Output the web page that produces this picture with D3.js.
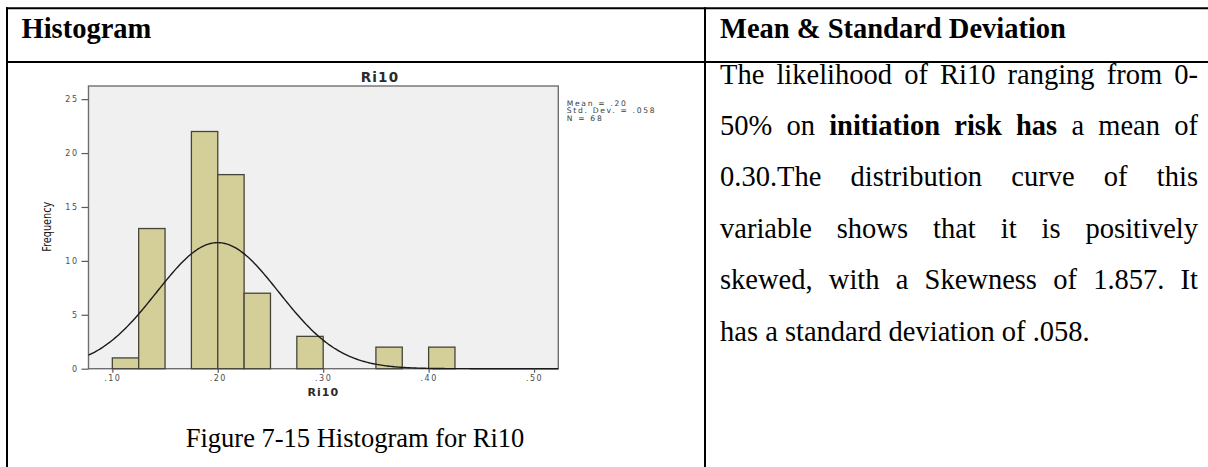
<!DOCTYPE html>
<html>
<head>
<meta charset="utf-8">
<script src="https://cdn.jsdelivr.net/npm/d3@7"></script>
<style>
  body { margin: 0; background: #fff; }
  svg { display: block; }
</style>
</head>
<body>
<svg id="page" width="1208" height="467"></svg>
<script>
// Ri10 histogram: lower edge of each 0.025-wide bin and its frequency
const binStarts = [0.100, 0.125, 0.150, 0.175, 0.200, 0.225, 0.250, 0.275, 0.300, 0.325, 0.350, 0.375, 0.400];
const binCounts = [1, 13, 0, 22, 18, 7, 0, 3, 0, 0, 2, 0, 2];
const binWidth = 0.025;

// Summary statistics used for the fitted normal curve
const meanValue = 0.20;
const sdValue = 0.058;
const nValue = 68;

// Axis ticks
const xTicks = [0.10, 0.20, 0.30, 0.40, 0.50];
const xTickLabels = [".10", ".20", ".30", ".40", ".50"];
const yTicks = [0, 5, 10, 15, 20, 25];

const legendLines = ["Mean = .20", "Std. Dev. = .058", "N = 68"];

// Right-hand column text, word runs flagged bold or not
const paragraphLines = [
  [["The likelihood of Ri10 ranging from 0-", false]],
  [["50% on", false], ["initiation risk has", true], ["a mean of", false]],
  [["0.30.The distribution curve of this", false]],
  [["variable shows that it is positively", false]],
  [["skewed, with a Skewness of 1.857. It", false]],
  [["has a standard deviation of .058.", false]]
];

const svg = d3.select("#page");
const serif = "'Liberation Serif', 'Times New Roman', serif";
const sans = "'DejaVu Sans', Verdana, sans-serif";

// ---------- table frame ----------
const frame = svg.append("g").attr("stroke", "#000").attr("stroke-width", 2);
frame.append("line").attr("x1", 6).attr("x2", 1208).attr("y1", 8.3).attr("y2", 8.3);
frame.append("line").attr("x1", 6).attr("x2", 1208).attr("y1", 62).attr("y2", 62);
frame.append("line").attr("x1", 7).attr("x2", 7).attr("y1", 7.3).attr("y2", 467);
frame.append("line").attr("x1", 705).attr("x2", 705).attr("y1", 7.3).attr("y2", 467);

svg.append("text").attr("x", 21.5).attr("y", 37.5)
  .attr("font-family", serif).attr("font-weight", "bold").attr("font-size", 28.5)
  .text("Histogram");
svg.append("text").attr("x", 720).attr("y", 37.5)
  .attr("font-family", serif).attr("font-weight", "bold").attr("font-size", 28.5)
  .text("Mean & Standard Deviation");

// ---------- histogram ----------
const plot = { l: 88.5, r: 558.3, t: 86, b: 368.7 };
const x = d3.scaleLinear().domain([0.0774, 0.523]).range([plot.l, plot.r]);
const y = d3.scaleLinear().domain([0, 26.22]).range([plot.b, plot.t]);

svg.append("rect")
  .attr("x", plot.l).attr("y", plot.t)
  .attr("width", plot.r - plot.l).attr("height", plot.b - plot.t)
  .attr("fill", "#f0f0f0").attr("stroke", "#6f6f6f").attr("stroke-width", 1.4);

const bins = binStarts.map((s, i) => ({ x0: s, x1: s + binWidth, count: binCounts[i] }))
  .filter(d => d.count > 0);

svg.append("g").selectAll("rect").data(bins).join("rect")
  .attr("x", d => x(d.x0))
  .attr("y", d => y(d.count))
  .attr("width", d => x(d.x1) - x(d.x0))
  .attr("height", d => y(0) - y(d.count))
  .attr("fill", "#d4cf98")
  .attr("stroke", "#45453a")
  .attr("stroke-width", 1.3);

// Fitted normal curve scaled to frequency: N * binWidth * pdf(x)
const curveScale = nValue * binWidth / (sdValue * Math.sqrt(2 * Math.PI));
const curvePts = d3.range(0, 301).map(i => {
  const xv = x.domain()[0] + (x.domain()[1] - x.domain()[0]) * i / 300;
  const z = (xv - meanValue) / sdValue;
  return [xv, curveScale * Math.exp(-0.5 * z * z)];
});
svg.append("path")
  .datum(curvePts)
  .attr("fill", "none")
  .attr("stroke", "#1a1a1a")
  .attr("stroke-width", 1.4)
  .attr("d", d3.line().x(d => x(d[0])).y(d => y(d[1])));

// Axes
const yAxis = svg.append("g")
  .attr("transform", `translate(${plot.l},0)`)
  .call(d3.axisLeft(y).tickValues(yTicks).tickFormat(d3.format("d")).tickSize(7).tickPadding(3));
const xAxis = svg.append("g")
  .attr("transform", `translate(0,${plot.b})`)
  .call(d3.axisBottom(x).tickValues(xTicks).tickFormat((d, i) => xTickLabels[i]).tickSize(4).tickPadding(3));

[yAxis, xAxis].forEach(g => {
  g.select(".domain").remove();
  g.selectAll(".tick line").attr("stroke", "#5a5a5a").attr("stroke-width", 1.2);
  g.selectAll(".tick text")
    .attr("fill", "#4d4d4d")
    .attr("font-family", sans)
    .attr("font-size", 8)
    .attr("letter-spacing", 1.5);
});

// Titles
svg.append("text").attr("x", 380).attr("y", 81.5)
  .attr("text-anchor", "middle")
  .attr("font-family", sans).attr("font-weight", "bold").attr("font-size", 13.5)
  .attr("letter-spacing", 1.2).attr("fill", "#2b2b2b")
  .text("Ri10");
svg.append("text").attr("x", (plot.l + plot.r) / 2).attr("y", 396)
  .attr("text-anchor", "middle")
  .attr("font-family", sans).attr("font-weight", "bold").attr("font-size", 11)
  .attr("letter-spacing", 1).attr("fill", "#2b2b2b")
  .text("Ri10");
svg.append("text")
  .attr("transform", "translate(51,226.7) rotate(-90)")
  .attr("text-anchor", "middle")
  .attr("font-family", "'DejaVu Sans Condensed', 'DejaVu Sans', sans-serif")
  .attr("font-size", 12).attr("fill", "#111")
  .attr("textLength", 50).attr("lengthAdjust", "spacingAndGlyphs")
  .text("Frequency");

// Statistics legend
svg.append("g").selectAll("text").data(legendLines).join("text")
  .attr("x", 566.7)
  .attr("y", (d, i) => 106 + i * 7.3)
  .attr("font-family", sans).attr("font-size", 7.6)
  .attr("letter-spacing", 1.7).attr("fill", "#3d3d3d")
  .text(d => d);

// Caption
svg.append("text").attr("x", 355).attr("y", 447)
  .attr("text-anchor", "middle")
  .attr("font-family", serif).attr("font-size", 26.5)
  .text("Figure 7-15 Histogram for Ri10");

// ---------- justified paragraph ----------
const paraX = 720, paraRight = 1198, paraSize = 28.5;
const firstBaseline = 83.5, lineStep = 51.4;
paragraphLines.forEach((runs, li) => {
  const words = [];
  runs.forEach(([txt, bold]) => txt.split(" ").forEach(w => words.push({ w, bold })));
  const g = svg.append("g");
  const nodes = words.map(d => g.append("text")
    .attr("y", firstBaseline + li * lineStep)
    .attr("font-family", serif)
    .attr("font-size", paraSize)
    .attr("font-weight", d.bold ? "bold" : "normal")
    .text(d.w));
  const widths = nodes.map(n => n.node().getComputedTextLength());
  const total = d3.sum(widths);
  const isLast = li === paragraphLines.length - 1;
  const gap = isLast ? paraSize * 0.25 : (paraRight - paraX - total) / (words.length - 1);
  let cx = paraX;
  nodes.forEach((n, i) => { n.attr("x", cx); cx += widths[i] + gap; });
});
</script>
</body>
</html>
